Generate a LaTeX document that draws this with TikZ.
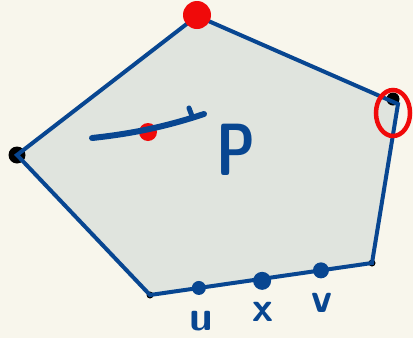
\documentclass[tikz,border=0pt]{standalone}
\usepackage{tikz}
\usetikzlibrary{positioning, calc}
\definecolor{paper}{RGB}{248,246,236}
\definecolor{hullfill}{RGB}{224,228,222}
\definecolor{penblue}{RGB}{8,70,145}
\definecolor{penred}{RGB}{240,10,10}
\tikzset{
  edge/.style={penblue, line width=4pt, line join=miter},
  bluedot/.style={circle, fill=penblue, inner sep=0pt, minimum size=#1},
  reddot/.style={circle, fill=penred, inner sep=0pt, minimum size=#1},
  blackdot/.style={circle, fill=black, inner sep=0pt, minimum size=#1},
  hand/.style={penblue, font=\sffamily\bfseries\fontsize{42}{42}\selectfont, inner sep=0pt}
}
\begin{document}
\begin{tikzpicture}[x=1pt, y=-1pt]
  % page and margins
  \fill[paper] (0,0) rectangle (413,338);
  \useasboundingbox (0,0) rectangle (413,338);
  % hull corners
  \coordinate (top) at (197,16);
  \coordinate (right) at (398,104);
  \coordinate (botright) at (372,263);
  \coordinate (botleft) at (150,295);
  \coordinate (left) at (17,155);
  % the polygon
  \fill[hullfill] (top) -- (right) -- (botright) -- (botleft) -- (left) -- cycle;
  \node[blackdot=17pt] (leftdot) at (left) {};
  \node[blackdot=13pt] (rightdot) at (393,99) {};
  \node[blackdot=7pt] (brdot) at (botright) {};
  \node[blackdot=7pt] (bldot) at (botleft) {};
  \draw[edge] (top) -- (right) -- (botright) -- (botleft) -- (left) -- cycle;
  % marked extreme points
  \node[reddot=28pt] (topdot) at (197,15) {};
  \draw[penred, line width=4.5pt] (393,113) ellipse[x radius=17, y radius=23];
  % points on the bottom edge
  \node[bluedot=14pt] (u) at ($(botleft)!0.22!(botright)$) {};
  \node[bluedot=18pt] (x) at ($(botleft)!0.505!(botright)+(0,2)$) {};
  \node[bluedot=16pt] (v) at ($(botleft)!0.77!(botright)$) {};
  \node[hand] at (201,321) {u};
  \node[hand] at (263,312) {x};
  \node[hand] at (322,303) {v};
  % inner segment
  \node[reddot=18pt] (mid) at (148,132) {};
  \coordinate (segA) at (92,138);
  \coordinate (segB) at (204,114);
  \draw[penblue, line width=6pt, line cap=round] (segA) .. controls (130,134) and (165,127) .. (segB);
  \draw[penblue, line width=5pt, line cap=round] (189,108) -- (192,116);
  \node[hand, font=\sffamily\bfseries\fontsize{74}{74}\selectfont, xscale=0.75] (P) at (236,150) {P};
\end{tikzpicture}
\end{document}
